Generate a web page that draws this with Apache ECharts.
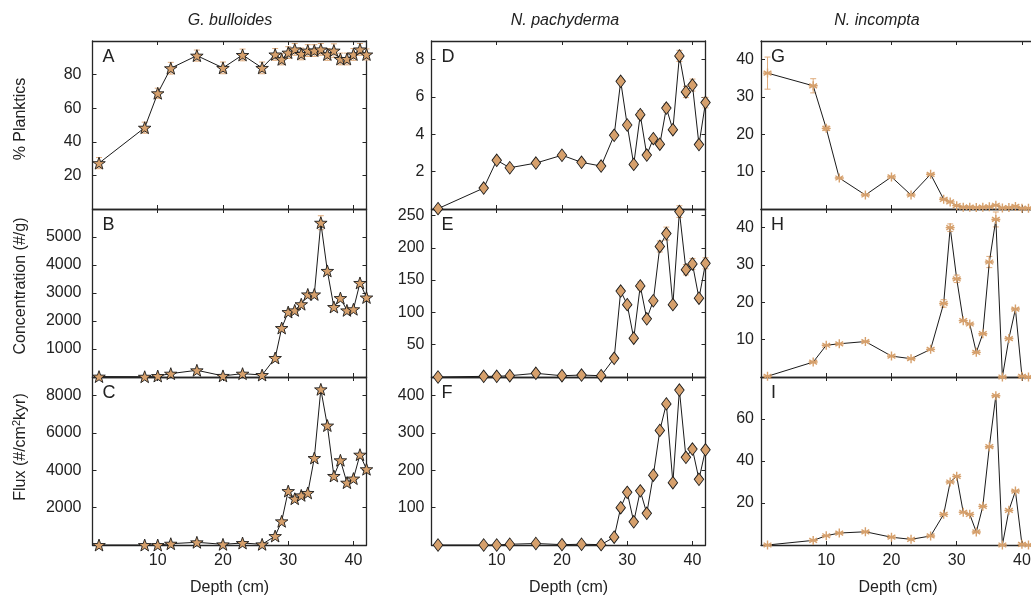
<!DOCTYPE html>
<html><head><meta charset="utf-8">
<script src="https://cdn.jsdelivr.net/npm/echarts@6/dist/echarts.min.js"></script>
<style>html,body{margin:0;padding:0;background:#fff}#c{width:1031px;height:599px}</style>
</head><body><div id="c"></div><script>
// ---------- data ----------
const depth = [1, 8, 10, 12, 16, 20, 23, 26, 28, 29, 30, 31, 32, 33, 34, 35, 36, 37, 38, 39, 40, 41, 42];

const bullPct    = [27.3, 48.4, 68.9, 83.8, 91.3, 84, 91.7, 84, 92, 89.1, 93.1, 95, 92.3, 94.3, 94.3, 95, 92, 94.3, 89.3, 89.3, 92, 95, 92];
const bullPctErr = [3.3, 3.3, 3, 3.5, 3.3, 3.5, 3.5, 3.5, 3.5, 3.3, 3.5, 3.5, 3.5, 3.5, 3.5, 3.5, 3.5, 4, 3.5, 3.5, 3.5, 3.5, 3.3];
const bullConc    = [15, 10, 36, 120, 240, 40, 120, 71, 680, 1750, 2320, 2380, 2600, 2950, 2950, 5510, 3790, 2500, 2820, 2380, 2420, 3360, 2840];
const bullConcErr = [0, 0, 0, 0, 0, 0, 0, 0, 0, 0, 0, 0, 0, 0, 0, 250, 0, 0, 0, 0, 0, 0, 0];
const bullFlux    = [0, 0, 0, 70, 145, 36, 107, 36, 480, 1270, 2890, 2480, 2660, 2790, 4660, 8340, 6400, 3700, 4540, 3340, 3560, 4840, 4060];

const pachyPct    = [0.02, 1.12, 2.61, 2.21, 2.46, 2.88, 2.5, 2.3, 3.95, 6.84, 4.5, 2.39, 5.05, 2.89, 3.77, 3.47, 5.41, 4.25, 8.2, 6.27, 6.64, 3.45, 5.7];
const pachyPctErr = [0, 0, 0, 0, 0, 0, 0, 0, 0, 0, 0, 0, 0.22, 0, 0, 0, 0.22, 0, 0.3, 0.3, 0.32, 0, 0.28];
const pachyConc    = [0, 1, 1, 2, 5.7, 2, 3, 2, 28.9, 133, 112, 60, 141, 90, 118, 202, 222, 112, 256, 166, 175, 122, 176];
const pachyConcErr = [0, 0, 0, 0, 0, 0, 0, 0, 0, 0, 0, 0, 6, 0, 0, 8.5, 10, 0, 9, 8, 8.5, 0, 8.5];
const pachyFlux    = [0, 0, 0, 2, 4, 1, 2, 1, 21, 100, 141, 62, 145, 85, 187, 307, 378, 167, 415, 235, 257, 176, 255];

const incPct    = [36.4, 33, 21.6, 8.3, 3.75, 8.6, 3.75, 9.3, 2.6, 1.9, 0.9, 0.5, 0.5, 0.4, 0.5, 0.6, 1.0, 0.3, 0.4, 0.7, 0.2, 0.2, 0.2];
const incPctErr = [4.3, 1.9, 0.6, 0, 0, 0, 0, 0, 0, 0, 0, 0, 0, 0, 0, 0, 0, 0, 0, 0, 0, 0, 0];
const incConc    = [0.2, 4.0, 8.5, 8.9, 9.5, 5.6, 4.9, 7.4, 19.7, 40, 26.3, 15.1, 14.2, 6.6, 11.6, 30.8, 42.2, 0, 10.3, 18.2, 0.2, 0, 0];
const incConcErr = [0, 0, 0, 0, 0, 0, 0, 0, 1, 1, 1, 0, 0, 0, 0, 1.5, 2, 0, 0, 0, 0, 0, 0];
const incFlux    = [0, 2.2, 4.4, 5.7, 6.3, 3.7, 2.7, 4.3, 14.6, 30, 32.7, 15.6, 14.6, 6.2, 18.4, 46.8, 71.1, 0, 16.5, 25.7, 0.3, 0, 0];

const speciesTitles = ['G. bulloides', 'N. pachyderma', 'N. incompta'];
const xAxisName = 'Depth (cm)';
const panelLetters = ['A', 'B', 'C', 'D', 'E', 'F', 'G', 'H', 'I'];

// ---------- layout / style ----------
const FONT = '"Liberation Sans", Arial, Helvetica, sans-serif';
const TXT = '#222';
const AX = '#262626';
const TAN = '#d6a06c';
const ERRC = '#dfab7c';
const colLeft = [92.5, 431.5, 761];
const colW = 274;
const rowTop = [41, 209, 377];
const rowH = 168;
const yLabelMargin = [11, 7, 7];
const titleX = [230, 565, 877];

const STAR = 'path://M0,-10L2.351,-3.236L9.511,-3.09L3.804,1.236L5.878,8.09L0,4L-5.878,8.09L-3.804,1.236L-9.511,-3.09L-2.351,-3.236Z';
const AST = 'path://M0,-5L0,5M-4.33,-2.5L4.33,2.5M-4.33,2.5L4.33,-2.5M-5,0L5,0';

const panels = [
  {c: 0, r: 0, v: bullPct,  e: bullPctErr,  max: 100,  iv: 20},
  {c: 0, r: 1, v: bullConc, e: bullConcErr, max: 6000, iv: 1000},
  {c: 0, r: 2, v: bullFlux, e: null,        max: 9000, iv: 2000},
  {c: 1, r: 0, v: pachyPct,  e: pachyPctErr,  max: 9,   iv: 2},
  {c: 1, r: 1, v: pachyConc, e: pachyConcErr, max: 260, iv: 50},
  {c: 1, r: 2, v: pachyFlux, e: null,         max: 450, iv: 100},
  {c: 2, r: 0, v: incPct,  e: incPctErr,  max: 45, iv: 10},
  {c: 2, r: 1, v: incConc, e: incConcErr, max: 45, iv: 10},
  {c: 2, r: 2, v: incFlux, e: null,       max: 80, iv: 20}
];

const grids = [], xAxes = [], yAxes = [], series = [], graphics = [];

function errRender(params, api) {
  const x = api.value(0), lo = api.value(1), hi = api.value(2);
  const p1 = api.coord([x, hi]), p2 = api.coord([x, lo]);
  const w = 3;
  const st = {stroke: ERRC, lineWidth: 1};
  return {type: 'group', children: [
    {type: 'line', shape: {x1: p1[0], y1: p1[1], x2: p2[0], y2: p2[1]}, style: st},
    {type: 'line', shape: {x1: p1[0] - w, y1: p1[1], x2: p1[0] + w, y2: p1[1]}, style: st},
    {type: 'line', shape: {x1: p2[0] - w, y1: p2[1], x2: p2[0] + w, y2: p2[1]}, style: st}
  ]};
}

const plain = v => String(v);

panels.forEach((p, i) => {
  const left = colLeft[p.c], top = rowTop[p.r];
  grids.push({left: left, top: top, width: colW, height: rowH, containLabel: false, outerBoundsMode: 'none'});
  const axisLine = {show: true, onZero: false, lineStyle: {color: AX, width: 1.3}};
  const tick = {show: true, inside: true, length: 4, lineStyle: {color: AX, width: 1}};
  const bottomRow = p.r === 2;
  xAxes.push({
    type: 'value', gridIndex: i, position: 'bottom', min: 0, max: 42, interval: 10,
    axisLine: axisLine, axisTick: tick, splitLine: {show: false},
    axisLabel: {show: bottomRow, showMinLabel: false, showMaxLabel: false, margin: 8,
      fontSize: 16, fontFamily: FONT, color: TXT, formatter: plain},
    name: bottomRow ? xAxisName : '', nameLocation: 'middle', nameGap: 35,
    nameTextStyle: {fontSize: 16, fontFamily: FONT, color: TXT}
  });
  xAxes.push({
    type: 'value', gridIndex: i, position: 'top', min: 0, max: 42, interval: 10,
    axisLine: axisLine, axisTick: tick, splitLine: {show: false}, axisLabel: {show: false}
  });
  yAxes.push({
    type: 'value', gridIndex: i, position: 'left', min: 0, max: p.max, interval: p.iv,
    axisLine: axisLine, axisTick: tick, splitLine: {show: false},
    axisLabel: {showMinLabel: false, showMaxLabel: false, margin: yLabelMargin[p.c],
      fontSize: 16, fontFamily: FONT, color: TXT, formatter: plain}
  });
  yAxes.push({
    type: 'value', gridIndex: i, position: 'right', min: 0, max: p.max, interval: p.iv,
    axisLine: axisLine, axisTick: tick, splitLine: {show: false}, axisLabel: {show: false}
  });

  if (p.e) {
    const ed = [];
    depth.forEach((d, k) => { if (p.e[k] > 0) ed.push([d, p.v[k] - p.e[k], p.v[k] + p.e[k]]); });
    series.push({type: 'custom', xAxisIndex: 2 * i, yAxisIndex: 2 * i, renderItem: errRender,
      data: ed, z: 2, clip: false, silent: true});
  }

  const pts = depth.map((d, k) => [d, p.v[k]]);
  let sym, size, item;
  if (p.c === 0) { sym = STAR; size = 12.5; item = {color: TAN, borderColor: '#1a1a1a', borderWidth: 0.9}; }
  else if (p.c === 1) { sym = 'diamond'; size = [9.5, 12.5]; item = {color: TAN, borderColor: '#1a1a1a', borderWidth: 0.9}; }
  else { sym = AST; size = 9; item = {color: TAN, borderColor: TAN, borderWidth: 1.4}; }
  series.push({
    type: 'line', xAxisIndex: 2 * i, yAxisIndex: 2 * i, data: pts,
    symbol: sym, symbolSize: size, symbolKeepAspect: true, showAllSymbol: true,
    itemStyle: item, lineStyle: {color: '#1a1a1a', width: 1}, clip: false, z: 3, silent: true
  });

  graphics.push({type: 'text', left: left + 10, top: top + 7, z: 10,
    style: {text: panelLetters[i], fontSize: 18, fontFamily: FONT, fill: TXT}});
});

speciesTitles.forEach((t, c) => {
  graphics.push({type: 'text', x: titleX[c], y: 21, z: 10,
    style: {text: t, fontSize: 16, fontStyle: 'italic', fontFamily: FONT, fill: TXT,
      textAlign: 'center', textVerticalAlign: 'middle'}});
});

// rotated y-axis names
const yNames = [
  {y: 119, text: '% Planktics'},
  {y: 286, text: 'Concentration (#/g)'},
  {y: 447, text: '{a|Flux (#/cm}{s|2}{a|kyr)}', rich: true}
];
yNames.forEach(n => {
  const st = {text: n.text, fontSize: 16, fontFamily: FONT, fill: TXT,
    textAlign: 'center', textVerticalAlign: 'middle'};
  if (n.rich) {
    st.rich = {
      a: {fontSize: 16, fontFamily: FONT, fill: TXT, lineHeight: 20},
      s: {fontSize: 11, fontFamily: FONT, fill: TXT, lineHeight: 12, verticalAlign: 'top'}
    };
  }
  graphics.push({type: 'text', x: 21, y: n.y, rotation: Math.PI / 2, z: 10, style: st});
});

const chart = echarts.init(document.getElementById('c'), null, {renderer: 'canvas'});
chart.setOption({
  animation: false,
  backgroundColor: '#fff',
  grid: grids, xAxis: xAxes, yAxis: yAxes, series: series, graphic: graphics
});
</script></body></html>
